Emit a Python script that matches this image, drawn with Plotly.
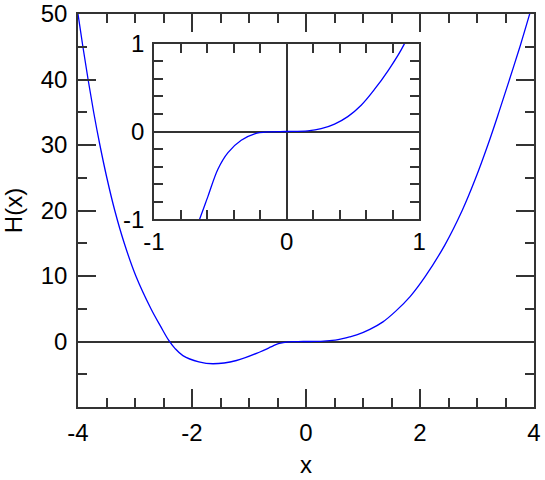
import plotly.graph_objects as go

# values
x_vals = [-4.0, -3.914, -3.823, -3.725, -3.616, -3.494, -3.355, -3.188, -2.985, -2.72,
          -2.55, -2.41, -2.30, -2.16, -1.88, -1.63, -1.22, -0.81, -0.656, -0.593,
          -0.518, -0.442, -0.342, -0.241, -0.14, 0.0, 0.16, 0.261, 0.362, 0.462,
          0.563, 0.663, 0.764, 0.889, 1.12, 1.35, 1.57, 1.83, 2.09, 2.44,
          2.74, 2.97, 3.19, 3.38, 3.57, 3.76, 3.924, 4.0]
h_vals = [50.0, 45.0, 40.0, 35.0, 30.0, 25.0, 20.0, 15.0, 10.0, 5.0,
          2.3, 0.2, -1.05, -2.15, -3.1, -3.4, -2.9, -1.6, -1.0, -0.74,
          -0.43, -0.24, -0.10, -0.027, -0.004, 0.0, 0.008, 0.032, 0.085, 0.17,
          0.30, 0.48, 0.69, 1.0, 1.85, 3.0, 4.6, 6.9, 9.9, 14.8,
          20.0, 24.8, 30.0, 34.9, 40.0, 45.2, 50.0, 52.3]

main_xticks = [-4, -2, 0, 2, 4]
main_xlabels = ['-4', '-2', '0', '2', '4']
main_yticks = [0, 10, 20, 30, 40, 50]
main_ylabels = ['0', '10', '20', '30', '40', '50']
inset_ticks = [-1, 0, 1]
inset_labels = ['-1', '0', '1']

AXIS = '#333333'
FONT = 'Liberation Sans, Arial, sans-serif'

fig = go.Figure()

line_style = dict(color='#0000ff', width=1.3, shape='spline', smoothing=1.0)

fig.add_trace(go.Scatter(x=x_vals, y=h_vals, mode='lines', line=line_style,
                         showlegend=False, xaxis='x', yaxis='y'))
fig.add_trace(go.Scatter(x=x_vals, y=h_vals, mode='lines', line=line_style,
                         showlegend=False, xaxis='x2', yaxis='y2'))

common = dict(showline=True, linecolor=AXIS, linewidth=1.5, mirror='ticks',
              ticks='inside', tickcolor=AXIS, tickwidth=1.5, showgrid=False,
              tickfont=dict(family=FONT, size=24, color='black'))


def minor_ticks(**kw):
    return dict(kw, ticklen=9, ticks='inside', tickcolor=AXIS, tickwidth=1.5,
                showgrid=False)


fig.update_layout(
    width=545, height=480,
    margin=dict(l=78, r=11, t=14, b=73, autoexpand=False),
    paper_bgcolor='white', plot_bgcolor='white',
    font=dict(family=FONT, size=24, color='black'),
    xaxis=dict(common, domain=[0, 1], range=[-4, 4], tickvals=main_xticks,
               ticktext=main_xlabels, ticklen=18, zeroline=False,
               ticklabelstandoff=3,
               minor=minor_ticks(dtick=0.5, tick0=0),
               title=dict(text='x', standoff=12,
                          font=dict(family=FONT, size=24))),
    yaxis=dict(common, domain=[0, 1], range=[-10, 50], tickvals=main_yticks,
               ticktext=main_ylabels, ticklen=18, zeroline=True,
               zerolinecolor=AXIS, zerolinewidth=1.5, ticklabelstandoff=4,
               minor=minor_ticks(tickvals=[-5, 5, 15, 25, 35, 45]),
               title=dict(text='H(x)', standoff=12,
                          font=dict(family=FONT, size=24))),
    xaxis2=dict(common, domain=[0.1667, 0.748], anchor='y2', range=[-1, 1],
                tickvals=inset_ticks, ticktext=inset_labels, ticklen=9,
                zeroline=True, zerolinecolor=AXIS, zerolinewidth=1.5,
                minor=minor_ticks(dtick=0.2, tick0=0)),
    yaxis2=dict(common, domain=[0.478, 0.924], anchor='x2', range=[-1, 1],
                tickvals=inset_ticks, ticktext=inset_labels, ticklen=9,
                zeroline=True, zerolinecolor=AXIS, zerolinewidth=1.5,
                ticklabelstandoff=3,
                minor=minor_ticks(dtick=0.2, tick0=0)),
)

# drop the default page margin so the figure sits at the window's corner
fig.write_html("out.html", config={'displayModeBar': False},
               post_script="document.body.style.margin='0';"
                           "document.body.style.overflow='hidden';")
